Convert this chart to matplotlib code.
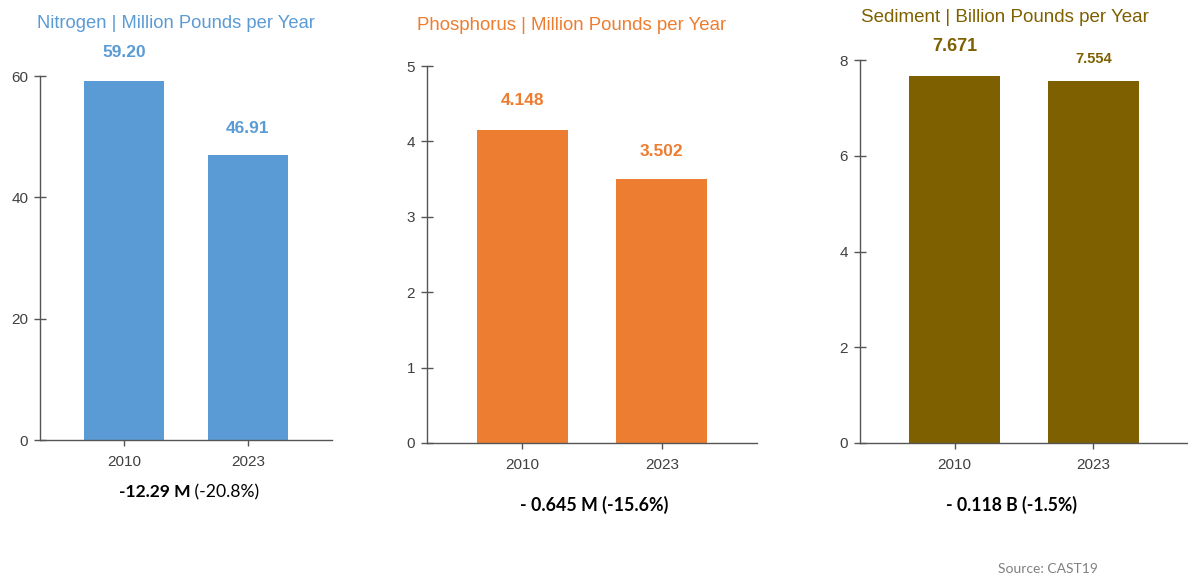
import matplotlib
matplotlib.use("Agg")
import matplotlib.pyplot as plt

# Loads by pollutant, 2010 vs 2023
years = ["2010", "2023"]
nitrogen = [59.20, 46.91]
phosphorus = [4.148, 3.502]
sediment = [7.671, 7.554]

nitrogen_label = ["59.20", "46.91"]
phosphorus_label = ["4.148", "3.502"]
sediment_label = ["7.671", "7.554"]

titles = [
    "Nitrogen | Million Pounds per Year",
    "Phosphorus | Million Pounds per Year",
    "Sediment | Billion Pounds per Year",
]
change_bold = ["-12.29 M", "- 0.645 M (-15.6%)", "- 0.118 B (-1.5%)"]
change_plain = [" (-20.8%)", "", ""]
y_ticks = [[0, 20, 40, 60], [0, 1, 2, 3, 4, 5], [0, 2, 4, 6, 8]]

colors = ["#5B9BD5", "#ED7D31", "#7F6000"]
title_colors = ["#5B9BD5", "#ED7D31", "#7F6000"]

plt.rcParams["font.family"] = ["Liberation Sans", "DejaVu Sans"]
note_family = ["Lato", "DejaVu Sans"]

fig = plt.figure(figsize=(11.88, 5.76), dpi=100)

W, H = 1188.0, 576.0
# axes boxes in pixel units: left, right, bottom, top
boxes = [(40, 332, 440, 76), (427, 757, 443, 66), (860, 1188, 443, 60)]

series = [nitrogen, phosphorus, sediment]
labels = [nitrogen_label, phosphorus_label, sediment_label]
label_sizes = [[12.5, 12.5], [12.5, 12.5], [13, 10.5]]
label_offsets = [[28, 27], [30, 27], [29, 22]]
title_y = [23, 25, 18]
title_x = [176, 572, 1005]
title_sizes = [13.2, 13.4, 13.5]
change_pos = [(189, 492), (594, 505), (1011, 505)]
change_sizes = [12.6, 12.8, 12.7]

for i in range(3):
    l, r, b, t = boxes[i]
    ax = fig.add_axes([l / W, 1 - b / H, (r - l) / W, (b - t) / H])
    x = list(range(len(years)))
    ax.bar(x, series[i], width=0.65, color=colors[i], zorder=2)
    ax.set_xlim(-0.68, 1.68)
    ax.set_ylim(0, y_ticks[i][-1])
    ax.set_yticks(y_ticks[i])
    ax.set_xticks(x)
    ax.set_xticklabels(years)
    for s in ["top", "right"]:
        ax.spines[s].set_visible(False)
    for s in ["left", "bottom"]:
        ax.spines[s].set_color("#555555")
        ax.spines[s].set_linewidth(1.0)
    ax.tick_params(axis="both", direction="inout", length=9, width=1,
                   color="#555555", labelsize=11, labelcolor="#404040")
    ax.tick_params(axis="x", pad=6)
    ax.tick_params(axis="y", pad=4)

    # value labels above bars
    for j, v in enumerate(series[i]):
        ax.annotate(labels[i][j], xy=(j, v), xytext=(0, label_offsets[i][j] * 0.72),
                    textcoords="offset points", ha="center", va="center",
                    fontsize=label_sizes[i][j], fontweight="bold", color=colors[i])

    fig.text(title_x[i] / W, 1 - title_y[i] / H, titles[i], ha="center", va="center",
             fontsize=title_sizes[i], color=title_colors[i])

# change summary under the nitrogen panel: bold amount followed by plain percent
cx, cy = change_pos[0]
fs = change_sizes[0]
bold_part = fig.text(0, 1 - cy / H, change_bold[0], ha="left", va="center",
                     fontsize=fs, fontweight="bold", family=note_family, color="black")
plain_part = fig.text(0, 1 - cy / H, change_plain[0], ha="left", va="center",
                      fontsize=fs, family=note_family, color="black")
fig.canvas.draw()
wb = bold_part.get_window_extent().width
wp = plain_part.get_window_extent().width
x0 = cx - (wb + wp) / 2
bold_part.set_x(x0 / W)
plain_part.set_x((x0 + wb) / W)

for i in (1, 2):
    cx, cy = change_pos[i]
    fig.text(cx / W, 1 - cy / H, change_bold[i], ha="center", va="center",
             fontsize=change_sizes[i], fontweight="bold", family=note_family,
             color="black")

fig.text(1048 / W, 1 - 569 / H, "Source: CAST19", ha="center", va="center",
         fontsize=10, family=note_family, color="#808080")

fig.savefig("out.png", dpi=100, facecolor="white")
